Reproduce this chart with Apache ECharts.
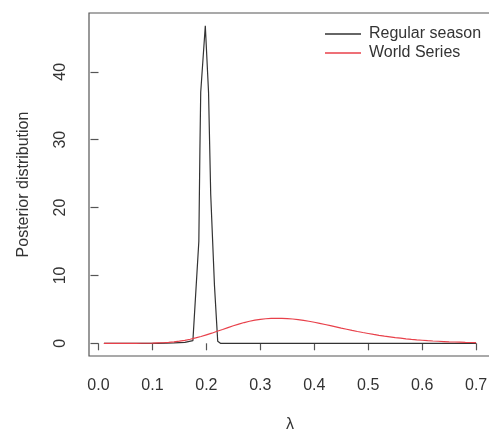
<!DOCTYPE html>
<html>
<head>
<meta charset="utf-8">
<script src="https://cdn.jsdelivr.net/npm/echarts@6/dist/echarts.min.js"></script>
<style>
html,body{margin:0;padding:0;background:#fff;}
#c{width:489px;height:434px;}
</style>
</head>
<body>
<div id="c"></div>
<script>
// Regular season posterior (black)
const regLambda = [0.01, 0.11, 0.14, 0.16, 0.175, 0.186, 0.188, 0.1895, 0.198, 0.204, 0.208, 0.215, 0.221, 0.226, 0.70];
const regDensity = [0, 0, 0.05, 0.15, 0.4, 15, 28.6, 37, 46.8, 37, 22, 8.5, 0.3, 0, 0];

// World Series posterior (red)
const wsLambda = [0.01,0.02,0.03,0.04,0.05,0.06,0.07,0.08,0.09,0.10,
  0.11,0.12,0.13,0.14,0.15,0.16,0.17,0.18,0.19,0.20,
  0.21,0.22,0.23,0.24,0.25,0.26,0.27,0.28,0.29,0.30,
  0.31,0.32,0.33,0.34,0.35,0.36,0.37,0.38,0.39,0.40,
  0.41,0.42,0.43,0.44,0.45,0.46,0.47,0.48,0.49,0.50,
  0.51,0.52,0.53,0.54,0.55,0.56,0.57,0.58,0.59,0.60,
  0.61,0.62,0.63,0.64,0.65,0.66,0.67,0.68,0.69,0.70];
const wsDensity = [0,0,0,0,0,0,0,0.01,0.01,0.02,
  0.05,0.08,0.14,0.21,0.31,0.44,0.60,0.79,1.00,1.25,
  1.49,1.77,2.03,2.32,2.59,2.83,3.06,3.25,3.42,3.54,
  3.62,3.67,3.68,3.67,3.64,3.58,3.50,3.38,3.25,3.10,
  2.94,2.77,2.60,2.42,2.24,2.07,1.90,1.74,1.59,1.45,
  1.31,1.18,1.06,0.95,0.84,0.75,0.66,0.58,0.51,0.45,
  0.39,0.34,0.30,0.26,0.22,0.19,0.17,0.14,0.12,0.10];

const xTicks = [0, 0.1, 0.2, 0.3, 0.4, 0.5, 0.6, 0.7];
const yTicks = [0, 10, 20, 30, 40];
const seriesNames = ['Regular season', 'World Series'];
const xName = 'λ';
const yName = 'Posterior distribution';

const font = '"Liberation Sans", Arial, sans-serif';
const chart = echarts.init(document.getElementById('c'), null, {renderer: 'canvas'});
chart.setOption({
  backgroundColor: '#fff',
  animation: false,
  grid: {left: 89, top: 13, right: -2, bottom: 78, show: true, borderColor: '#555', borderWidth: 1.2,
    backgroundColor: 'transparent', containLabel: false, outerBoundsMode: 'none'},
  legend: {
    orient: 'vertical', left: 320, top: 21, itemWidth: 36, itemHeight: 1.5, itemGap: 3,
    icon: 'rect',
    textStyle: {fontFamily: font, fontSize: 16, color: '#333', padding: [0, 0, 0, 3]},
    data: seriesNames
  },
  xAxis: {
    type: 'value', min: -0.0176, max: 0.7276,
    name: xName, nameLocation: 'middle', nameGap: 61,
    nameTextStyle: {fontFamily: font, fontSize: 16, color: '#333'},
    axisLine: {show: false},
    axisTick: {show: true, inside: false, length: 7, lineStyle: {color: '#555', width: 1.2}, customValues: xTicks},
    axisLabel: {fontFamily: font, fontSize: 16, color: '#333', margin: 22, customValues: xTicks,
      formatter: v => v.toFixed(1)},
    splitLine: {show: false}
  },
  yAxis: {
    type: 'value', min: -1.87, max: 48.67,
    name: yName, nameLocation: 'middle', nameGap: 57, nameRotate: 90,
    nameTextStyle: {fontFamily: font, fontSize: 16, color: '#333'},
    axisLine: {show: false},
    axisTick: {show: true, inside: false, length: 8, lineStyle: {color: '#555', width: 1.2}, customValues: yTicks},
    axisLabel: {fontFamily: font, fontSize: 16, color: '#333', margin: 20, rotate: 90, customValues: yTicks},
    splitLine: {show: false}
  },
  series: [
    {
      name: seriesNames[0], type: 'line', symbol: 'none', showSymbol: false,
      data: regLambda.map((x, i) => [x, regDensity[i]]),
      lineStyle: {color: '#333', width: 1.2}, itemStyle: {color: '#333'}, z: 2
    },
    {
      name: seriesNames[1], type: 'line', symbol: 'none', showSymbol: false,
      data: wsLambda.map((x, i) => [x, wsDensity[i]]),
      lineStyle: {color: '#e8404a', width: 1.2}, itemStyle: {color: '#e8404a'}, z: 3
    }
  ]
});
</script>
</body>
</html>
